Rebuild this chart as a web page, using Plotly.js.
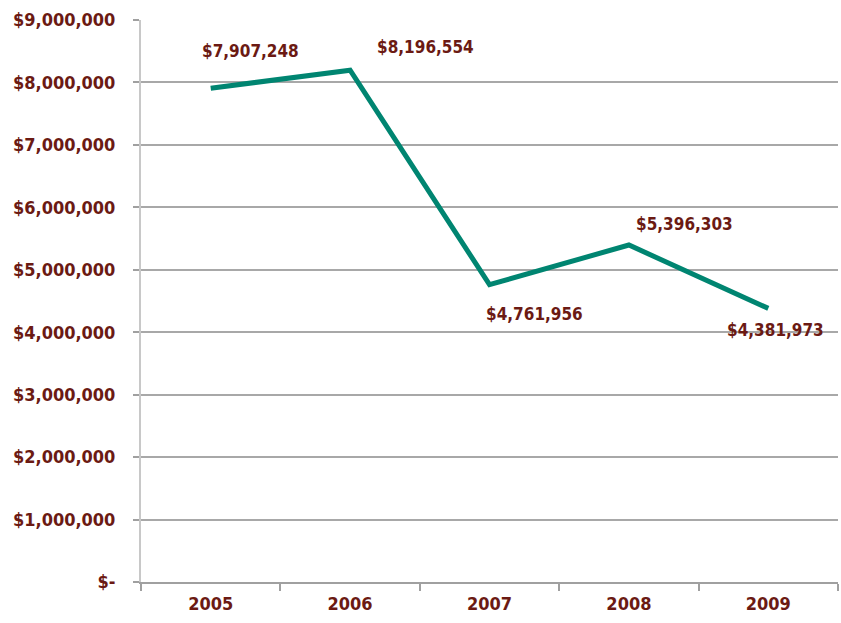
<!DOCTYPE html>
<html><head><meta charset="utf-8">
<script src="https://cdn.plot.ly/plotly-3.0.1.min.js"></script>
<style>html,body{margin:0;padding:0;background:#fff}#c{width:841px;height:623px}</style>
</head><body><div id="c"></div>
<script>
var years = ['2005','2006','2007','2008','2009'];
var values = [7907248, 8196554, 4761956, 5396303, 4381973];
var yTickVals = [0,1000000,2000000,3000000,4000000,5000000,6000000,7000000,8000000,9000000];
var yTickText = ['$-','$1,000,000','$2,000,000','$3,000,000','$4,000,000','$5,000,000','$6,000,000','$7,000,000','$8,000,000','$9,000,000'];
var labelShiftX = [40, 75, 45, 56, 7];
var labelShiftY = [37, 23, -29, 21, -22];

var FONT = '"DejaVu Sans Condensed", "Liberation Sans Narrow", sans-serif';
var RED = '#6b1a13';
function fmt(v){
  var s = String(v), out = '';
  while (s.length > 3) { out = ',' + s.slice(-3) + out; s = s.slice(0, -3); }
  return '$' + s + out;
}

var annotations = [];
for (var i = 0; i < years.length; i++) {
  annotations.push({x: i, y: values[i], xref: 'x', yref: 'y', text: fmt(values[i]), showarrow: false,
    xshift: labelShiftX[i], yshift: labelShiftY[i], font: {family: FONT, size: 17, color: RED, weight: 'bold'}});
}

Plotly.newPlot('c', [{
  x: years, y: values, type:'scatter', mode:'lines',
  line:{color:'#008571', width:5}, hoverinfo:'skip'
}], {
  width:841, height:623,
  margin:{l:141, r:3, t:20, b:41},
  paper_bgcolor:'#fff', plot_bgcolor:'#fff',
  showlegend:false,
  xaxis:{type:'category', range:[-0.5,4.5], tickson:'boundaries', ticks:'outside', ticklen:7, tickcolor:'#a0a0a0', tickwidth:1.5,
    showgrid:false, showline:true, linecolor:'#a0a0a0', linewidth:1.5, zeroline:false,
    tickfont:{family:FONT, size:18, color:RED, weight:'bold'}, ticklabelstandoff:5},
  yaxis:{range:[0,9000000], tickvals:yTickVals, ticktext:yTickText, ticks:'outside', ticklen:6, tickcolor:'#a0a0a0', tickwidth:1.5,
    showgrid:true, gridcolor:'#a8a8a8', gridwidth:1.5, showline:true, linecolor:'#c8c8c8', linewidth:2, zeroline:false,
    tickfont:{family:FONT, size:18, color:RED, weight:'bold'}, ticklabelstandoff:14},
  annotations: annotations
}, {displayModeBar:false});
</script></body></html>
